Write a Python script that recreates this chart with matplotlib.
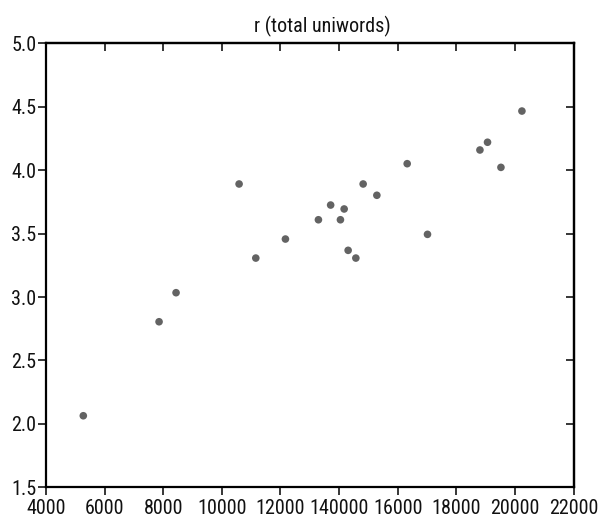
import matplotlib
matplotlib.use("Agg")
import matplotlib.pyplot as plt
from matplotlib import font_manager

names = {f.name for f in font_manager.fontManager.ttflist}
fam = "Liberation Sans"
size = 12
for cand, sz in [("Liberation Sans Narrow", 15), ("Arial Narrow", 15),
                 ("Roboto Condensed", 14.5)]:
    if cand in names:
        fam, size = cand, sz
        break
plt.rcParams['font.family'] = [fam, 'DejaVu Sans']

title = "r (total uniwords)"
x_vals = [5273, 7858, 8438, 10589, 11159, 12170, 13296, 13713, 14047, 14174,
          14310, 14573, 14822, 15290, 16325, 17018, 18807, 19066, 19524, 20240]
y_vals = [2.064, 2.805, 3.034, 3.891, 3.307, 3.457, 3.609, 3.725, 3.609, 3.694,
          3.368, 3.307, 3.891, 3.802, 4.051, 3.494, 4.159, 4.220, 4.022, 4.466]
x_ticks = [4000, 6000, 8000, 10000, 12000, 14000, 16000, 18000, 20000, 22000]
x_tick_labels = ["4000", "6000", "8000", "10000", "12000", "140000", "16000",
                 "18000", "20000", "22000"]
y_ticks = [1.5, 2.0, 2.5, 3.0, 3.5, 4.0, 4.5, 5.0]
y_tick_labels = ["1.5", "2.0", "2.5", "3.0", "3.5", "4.0", "4.5", "5.0"]

fig = plt.figure(figsize=(6.01, 5.17), dpi=100)
ax = fig.add_axes([46/601, 1 - 487.3/517, 527.5/601, 444/517])
ax.scatter(x_vals, y_vals, s=30, color="#636363", edgecolors="none", zorder=3)

ax.set_xlim(4000, 22000)
ax.set_ylim(1.5, 5.0)
ax.set_xticks(x_ticks)
ax.set_xticklabels(x_tick_labels)
ax.set_yticks(y_ticks)
ax.set_yticklabels(y_tick_labels)

for s in ax.spines.values():
    s.set_linewidth(1.6)
    s.set_color("black")

ax.tick_params(axis="both", which="major", labelsize=size, width=1.1, length=5.5,
               color="black", labelcolor="#111111")
ax.tick_params(axis="x", direction="out", pad=3)
ax.tick_params(axis="y", direction="out", pad=1.5)

# inward ticks on top and right
ax_top = ax.secondary_xaxis("top")
ax_top.set_xticks(x_ticks)
ax_top.tick_params(direction="in", length=5.5, width=1.1, labeltop=False)
ax_top.spines["top"].set_linewidth(1.6)
ax_right = ax.secondary_yaxis("right")
ax_right.set_yticks(y_ticks)
ax_right.tick_params(direction="in", length=5.5, width=1.1, labelright=False)
ax_right.spines["right"].set_linewidth(1.6)

fig.text(322/601, 1 - 26/517, title, ha="center", va="center", fontsize=size,
         color="#111111")

fig.savefig("out.png", dpi=100)
